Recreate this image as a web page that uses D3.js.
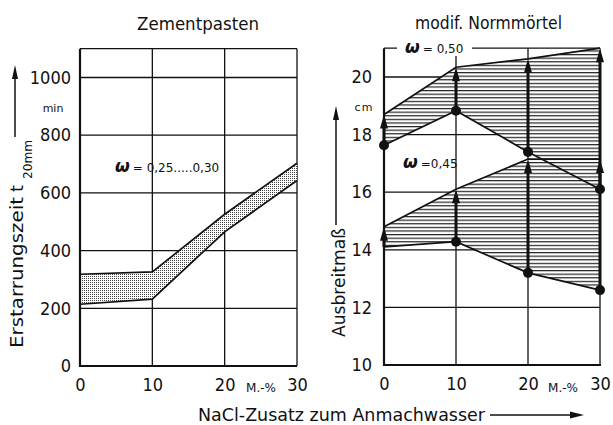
<!DOCTYPE html>
<html><head><meta charset="utf-8">
<script src="https://cdn.jsdelivr.net/npm/d3@7"></script>
<style>
body{margin:0;background:#fff;}
svg text{font-family:"DejaVu Sans",sans-serif;fill:#111;}
svg .tick text{font-family:"DejaVu Sans",sans-serif;font-stretch:condensed;font-size:18px;}
</style></head><body>
<svg id="c" width="613" height="425"></svg>
<script>
// NaCl addition to the mixing water (M.-%)
const nacl = [0, 10, 20, 30];
// Cement pastes: setting time t20mm (min), band for w = 0.25 ... 0.30
const pasteUpper = [318, 326, 526, 703];
const pasteLower = [214, 232, 465, 643];
// Modified standard mortar: flow diameter (cm), w = 0.50 and w = 0.45
const w050Lower = [17.63, 18.83, 17.4, 16.1];
const w050Upper = [18.7, 20.34, 20.63, 21.0];
const w045Lower = [14.1, 14.28, 13.2, 12.6];
const w045Upper = [14.8, 16.1, 17.15, 17.15];
// NaCl contents with a measured point marker
const w050Dots = [0, 10, 20, 30];
const w045Dots = [10, 20, 30];
// tick values
const leftTicks = [0, 200, 400, 600, 800, 1000];
const rightTicks = [10, 12, 14, 16, 18, 20];
const xTicks = [0, 10, 20, 30];

const svg = d3.select("#c");
const ink = "#111";

const defs = svg.append("defs");
// stipple for the cement paste band
const st = defs.append("pattern").attr("id", "stipple").attr("patternUnits", "userSpaceOnUse")
  .attr("width", 2).attr("height", 2);
st.append("rect").attr("width", 2).attr("height", 2).attr("fill", "#fff");
st.append("rect").attr("width", 1).attr("height", 1).attr("fill", "#444");
// horizontal hatching for the mortar ranges
const hp = defs.append("pattern").attr("id", "hatch").attr("patternUnits", "userSpaceOnUse")
  .attr("width", 8).attr("height", 3.6);
hp.append("rect").attr("width", 8).attr("height", 3.6).attr("fill", "#fff");
hp.append("rect").attr("y", 0).attr("width", 8).attr("height", 1.2).attr("fill", "#222");

const xL = d3.scaleLinear([0, 30], [80, 297]);
const yL = d3.scaleLinear([0, 1000], [366, 77.5]);
const xR = d3.scaleLinear([0, 30], [384, 600]);
const yR = d3.scaleLinear([10, 20], [365, 77]);
const fmt = d3.format("d");

function line(g, x1, y1, x2, y2, w) {
  g.append("line").attr("x1", x1).attr("y1", y1).attr("x2", x2).attr("y2", y2)
    .attr("stroke", ink).attr("stroke-width", w);
}
function arrowUp(g, x, yBase, yTip, w, hl, hw) {
  line(g, x, yBase, x, yTip + hl - 2, w);
  g.append("path").attr("d", `M${x},${yTip} L${x - hw / 2},${yTip + hl} L${x + hw / 2},${yTip + hl} Z`).attr("fill", ink);
}

// ---------- left panel: Zementpasten ----------
const gl = svg.append("g");
const topL = 1100;
leftTicks.filter(v => v > 0).forEach(v => line(gl, xL(0), yL(v), xL(30), yL(v), 1.3));
[10, 20].forEach(v => line(gl, xL(v), yL(0), xL(v), yL(topL), 1.3));
line(gl, xL(0), yL(topL), xL(30), yL(topL), 1.3);
line(gl, xL(30), yL(topL), xL(30), yL(0), 1.3);

const pasteBand = d3.area().x((d, i) => xL(nacl[i])).y0((d, i) => yL(pasteLower[i])).y1(d => yL(d));
gl.append("path").datum(pasteUpper).attr("d", pasteBand).attr("fill", "url(#stipple)");
const pl = d3.line().x((d, i) => xL(nacl[i])).y(d => yL(d));
[pasteUpper, pasteLower].forEach(s => gl.append("path").datum(s).attr("d", pl)
  .attr("fill", "none").attr("stroke", ink).attr("stroke-width", 1.7));

line(gl, xL(0), yL(0) + 1, xL(0), yL(topL), 2.2);
line(gl, xL(0) - 1, yL(0), xL(30), yL(0), 2.2);

const axL = gl.append("g").attr("transform", `translate(${xL(0)},0)`)
  .call(d3.axisLeft(yL).tickValues(leftTicks).tickFormat(fmt).tickSize(0).tickPadding(9));
const axLB = gl.append("g").attr("transform", `translate(0,${yL(0)})`)
  .call(d3.axisBottom(xL).tickValues(xTicks).tickFormat(fmt).tickSize(0).tickPadding(12));

gl.append("text").attr("x", 53).attr("y", 112).attr("text-anchor", "middle")
  .attr("font-size", 11).text("min");
gl.append("text").attr("x", 261).attr("y", 392).attr("text-anchor", "middle")
  .attr("font-size", 12).text("M.-%");

const wl = gl.append("text").attr("x", 115).attr("y", 172);
wl.append("tspan").attr("font-size", 17).attr("font-weight", "bold").attr("font-style", "italic").text("ω");
wl.append("tspan").attr("font-size", 12).attr("dx", 3).text("= 0,25.....0,30");

svg.append("text").attr("x", 137).attr("y", 30).attr("font-size", 18)
  .attr("textLength", 122).attr("lengthAdjust", "spacingAndGlyphs").text("Zementpasten");

// y-axis title with arrow
svg.append("text").attr("transform", "translate(23,348) rotate(-90)").attr("font-size", 18)
  .attr("textLength", 151).attr("lengthAdjust", "spacingAndGlyphs").text("Erstarrungszeit");
svg.append("text").attr("transform", "translate(23,192) rotate(-90)").attr("font-size", 18).text("t");
svg.append("text").attr("transform", "translate(32,179) rotate(-90)").attr("font-size", 12)
  .attr("textLength", 39).attr("lengthAdjust", "spacingAndGlyphs").text("20mm");
arrowUp(svg, 15, 137, 65, 1.5, 14, 6);

// ---------- right panel: modif. Normmörtel ----------
const gr = svg.append("g");
const topR = 21;
rightTicks.filter(v => v > 10).forEach(v => line(gr, xR(0), yR(v), xR(30), yR(v), 1.3));
[10, 20].forEach(v => line(gr, xR(v), yR(10), xR(v), yR(topR), 1.3));
line(gr, xR(0), yR(topR), xR(30), yR(topR), 1.3);
line(gr, xR(30), yR(topR), xR(30), yR(10), 1.3);

function band(lower, upper) {
  const a = d3.area().x((d, i) => xR(nacl[i])).y0((d, i) => yR(lower[i])).y1(d => yR(d));
  gr.append("path").datum(upper).attr("d", a).attr("fill", "url(#hatch)");
}
band(w050Lower, w050Upper);
band(w045Lower, w045Upper);
const rl = d3.line().x((d, i) => xR(nacl[i])).y(d => yR(d));
[w050Lower, w050Upper, w045Lower, w045Upper].forEach(s => gr.append("path").datum(s).attr("d", rl)
  .attr("fill", "none").attr("stroke", ink).attr("stroke-width", 1.7));

line(gr, xR(0), yR(10) + 1, xR(0), yR(topR), 2.2);
line(gr, xR(0) - 1, yR(10), xR(30) + 1, yR(10), 2.2);

// arrows from the measured value up to the upper limit
function arrows(lower, upper) {
  nacl.forEach((n, i) => arrowUp(gr, xR(n), yR(lower[i]), yR(upper[i]), 3, 14, 8));
}
arrows(w050Lower, w050Upper);
arrows(w045Lower, w045Upper);
function dots(list, lower) {
  list.forEach(n => {
    const i = nacl.indexOf(n);
    gr.append("circle").attr("cx", xR(n)).attr("cy", yR(lower[i])).attr("r", 5).attr("fill", ink);
  });
}
dots(w050Dots, w050Lower);
dots(w045Dots, w045Lower);

const axR = gr.append("g").attr("transform", `translate(${xR(0)},0)`)
  .call(d3.axisLeft(yR).tickValues(rightTicks).tickFormat(fmt).tickSize(0).tickPadding(12));
const axRB = gr.append("g").attr("transform", `translate(0,${yR(10)})`)
  .call(d3.axisBottom(xR).tickValues(xTicks).tickFormat(fmt).tickSize(0).tickPadding(12));

gr.append("text").attr("x", 364).attr("y", 111).attr("text-anchor", "middle")
  .attr("font-size", 11).attr("letter-spacing", 1).text("cm");
gr.append("text").attr("x", 563).attr("y", 392).attr("text-anchor", "middle")
  .attr("font-size", 12).text("M.-%");

gr.append("rect").attr("x", 397).attr("y", 40).attr("width", 75).attr("height", 16).attr("fill", "#fff");
const w50 = gr.append("text").attr("x", 405).attr("y", 53);
w50.append("tspan").attr("font-size", 17).attr("font-weight", "bold").attr("font-style", "italic").text("ω");
w50.append("tspan").attr("font-size", 12).attr("dx", 3).text("= 0,50");
const w45 = gr.append("text").attr("x", 403).attr("y", 168);
w45.append("tspan").attr("font-size", 17).attr("font-weight", "bold").attr("font-style", "italic").text("ω");
w45.append("tspan").attr("font-size", 12).attr("dx", 3).text("=0,45");

svg.append("text").attr("x", 415).attr("y", 29).attr("font-size", 18)
  .attr("textLength", 147).attr("lengthAdjust", "spacingAndGlyphs").text("modif. Normmörtel");

svg.append("text").attr("transform", "translate(345,337) rotate(-90)").attr("font-size", 18)
  .attr("textLength", 109).attr("lengthAdjust", "spacingAndGlyphs").text("Ausbreitmaß");
arrowUp(svg, 336, 225, 106, 1.5, 14, 6);

// shared x-axis title
svg.append("text").attr("x", 198).attr("y", 421).attr("font-size", 17)
  .attr("textLength", 287).attr("lengthAdjust", "spacingAndGlyphs").text("NaCl-Zusatz zum Anmachwasser");
svg.append("line").attr("x1", 490).attr("y1", 415).attr("x2", 572).attr("y2", 415)
  .attr("stroke", ink).attr("stroke-width", 1.5);
svg.append("path").attr("d", "M584,415 L570,411.5 L570,418.5 Z").attr("fill", ink);

// axis styling
[axL, axLB, axR, axRB].forEach(a => {
  a.attr("font-family", null).attr("font-size", null);
  a.select(".domain").remove();
  a.selectAll("text").attr("fill", ink);
});
</script>
</body></html>
